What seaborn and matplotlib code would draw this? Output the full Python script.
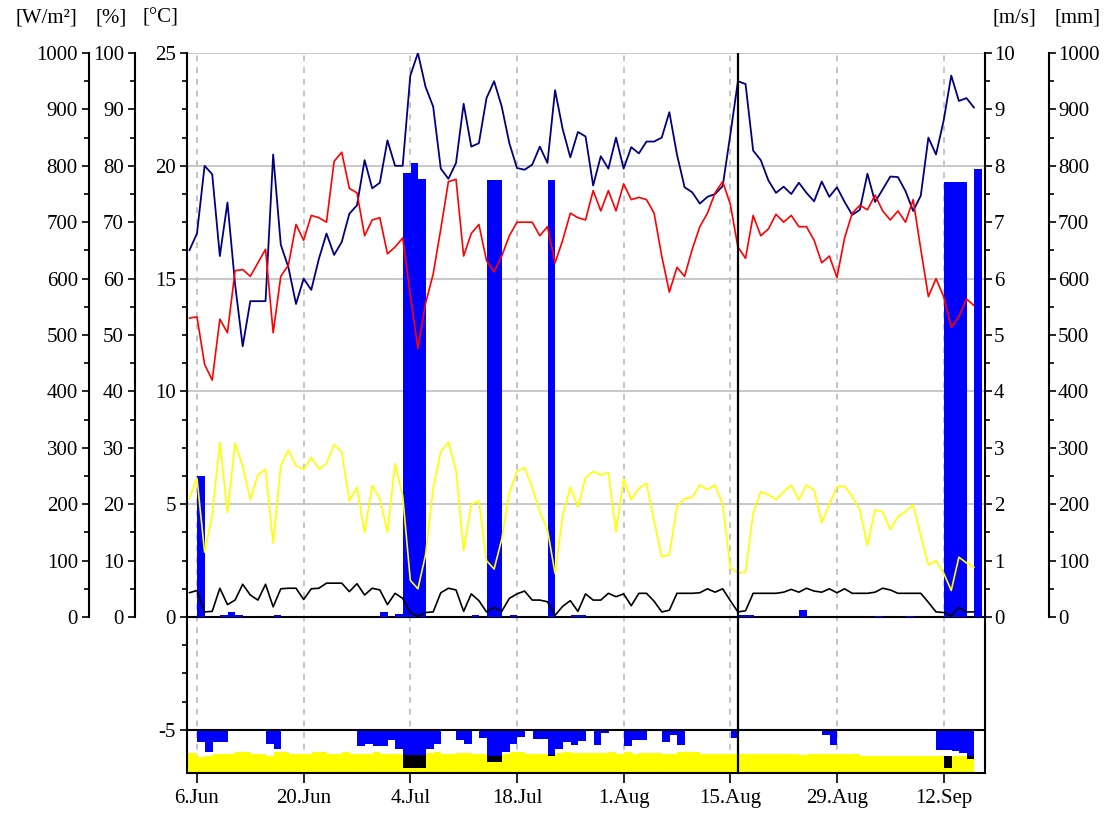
import numpy as np
import matplotlib
matplotlib.use("Agg")
import matplotlib.pyplot as plt
import seaborn as sns
from matplotlib.ticker import FixedLocator

sns.set_style("ticks", {"axes.edgecolor": "black", "xtick.color": "black",
                        "ytick.color": "black", "text.color": "black"})
plt.rcParams["font.family"] = ["Liberation Serif", "DejaVu Serif"]
plt.rcParams["axes.unicode_minus"] = False

# ---------------- data ----------------
date_ticks = [0, 14, 28, 42, 56, 70, 84, 98]          # days after 6 Jun
date_labels = ["6.Jun", "20.Jun", "4.Jul", "18.Jul", "1.Aug", "15.Aug", "29.Aug", "12.Sep"]
first_day = -1                                          # 5 Jun
marker_day = 71                                         # 16 Aug

humidity = [65, 68, 80, 78.5, 64, 73.5, 59, 48, 56, 56, 56, 82, 66, 62, 55.5, 60, 58, 63.5, 68, 64.2,
            66.5, 71.5, 73, 81, 76, 77, 84.5, 80, 80, 96, 100, 94, 90.5, 79.5, 77.7, 80.5, 91, 83.4, 84, 92,
            95, 90.5, 84, 79.6, 79.3, 80.2, 83.4, 80.5, 93.4, 86.5, 81.5, 86, 85.2, 76.5, 81.7, 79.5, 85, 79.5,
            83.3, 82.2, 84.3, 84.3, 85, 89.5, 82, 76.2, 75.3, 73.3, 74.5, 75, 76.4, 85.5, 95, 94.5, 82.7, 81,
            77.4, 75.2, 76.3, 75, 77, 75.2, 73.7, 77.2, 74.5, 76.2, 73.6, 71.3, 72.2, 78.6, 73.6, 75.8, 78.1,
            78, 75.5, 72, 74.7, 85, 82, 88, 96, 91.5, 92, 90.3]

temperature = [13.25, 13.3, 11.2, 10.5, 13.2, 12.6, 15.35, 15.4, 15.1, 15.7, 16.3, 12.6, 15.1, 15.6, 17.4,
               16.7, 17.8, 17.7, 17.5, 20.2, 20.6, 19.0, 18.8, 16.9, 17.6, 17.7, 16.1, 16.4, 16.8, 14.3,
               11.9, 13.9, 15.2, 17.2, 19.3, 19.4, 16.0, 17.0, 17.4, 15.8, 15.3, 16.0, 16.9, 17.5, 17.5,
               17.5, 16.9, 17.3, 15.7, 16.7, 17.9, 17.7, 17.6, 18.9, 18.0, 18.9, 18.0, 19.2, 18.5, 18.6,
               18.5, 17.9, 16.0, 14.4, 15.5, 15.1, 16.3, 17.3, 17.9, 18.8, 19.3, 18.3, 16.4, 15.9, 17.8,
               16.9, 17.2, 17.85, 17.5, 17.8, 17.3, 17.3, 16.7, 15.7, 16.0, 15.05, 16.8, 17.9, 18.25, 18.05,
               18.7, 18.0, 17.6, 18.0, 17.5, 18.5, 16.3, 14.2, 15.0, 14.2, 12.85, 13.3, 14.1, 13.8]

radiation = [210, 246, 115, 180, 310, 185, 308, 268, 208, 252, 262, 131, 268, 296, 268, 262, 283, 262, 272,
             306, 292, 206, 230, 150, 233, 210, 150, 272, 215, 65, 50, 110, 228, 293, 310, 260, 118, 200,
             206, 100, 85, 138, 220, 258, 265, 230, 187, 155, 77, 180, 230, 195, 247, 258, 252, 256, 151,
             245, 208, 228, 237, 170, 107, 110, 196, 210, 212, 234, 226, 234, 200, 87, 78, 80, 184, 222,
             217, 208, 222, 234, 208, 234, 225, 167, 200, 231, 232, 214, 190, 127, 190, 186, 155, 178, 187,
             199, 145, 92, 100, 78, 47, 106, 96, 88]

wind = [0.43, 0.47, 0.09, 0.10, 0.51, 0.22, 0.30, 0.58, 0.39, 0.30, 0.58, 0.18, 0.50, 0.51, 0.51, 0.31,
        0.50, 0.51, 0.60, 0.60, 0.60, 0.45, 0.59, 0.39, 0.51, 0.48, 0.22, 0.42, 0.33, 0.08, 0.01, 0.08,
        0.09, 0.43, 0.51, 0.48, 0.10, 0.41, 0.29, 0.09, 0.17, 0.10, 0.33, 0.41, 0.46, 0.30, 0.30, 0.27,
        0.03, 0.19, 0.29, 0.10, 0.41, 0.30, 0.30, 0.42, 0.36, 0.41, 0.20, 0.42, 0.42, 0.28, 0.09, 0.12,
        0.42, 0.42, 0.42, 0.43, 0.50, 0.44, 0.50, 0.29, 0.09, 0.11, 0.42, 0.42, 0.42, 0.42, 0.44, 0.49,
        0.44, 0.51, 0.46, 0.44, 0.50, 0.43, 0.50, 0.42, 0.42, 0.42, 0.44, 0.51, 0.48, 0.42, 0.42, 0.42,
        0.42, 0.26, 0.09, 0.08, 0.02, 0.17, 0.09, 0.09]

rain_days = [0, 3, 4, 5, 10, 24, 26, 27, 28, 29, 36, 38, 39, 41, 46, 49, 50, 71, 72, 79, 89, 93, 98, 99, 100, 102]
rain_mm = [250, 3, 9, 3, 3, 9, 5, 787, 805, 776, 3, 775, 775, 3, 775, 3, 3, 4, 3, 13, 2, 2, 772, 772, 772, 794]

# lower panel (in the °C units of the left scale)
deficit = [0.52, 0.99, 0.52, 0.52, 0, 0, 0, 0, 0, 0.62,
           0.84, 0, 0, 0, 0, 0, 0, 0, 0, 0,
           0, 0.70, 0.62, 0.74, 0.74, 0.47, 0.84, 1.11, 1.11, 1.11,
           0.84, 0.62, 0, 0, 0.44, 0.62, 0, 0.37, 1.14, 1.14,
           0.99, 0.62, 0.32, 0, 0.40, 0.40, 1.11, 0.84, 0.52, 0.67,
           0.49, 0, 0.67, 0.13, 0, 0, 0.74, 0.44, 0.44, 0,
           0, 0.52, 0.22, 0.67, 0, 0, 0, 0, 0, 0,
           0.37, 0, 0, 0, 0, 0, 0, 0, 0, 0,
           0, 0, 0.22, 0.67, 0, 0, 0, 0, 0, 0,
           0, 0, 0, 0, 0, 0, 0, 0.89, 0.89, 0.96,
           1.03, 1.18]
band_top = [-6.03, -6.20, -6.15, -6.08, -6.08, -6.08, -5.99, -5.99, -6.06, -6.06, -6.15,
            -6.00, -5.99, -6.08, -6.08, -6.08, -5.99, -5.99, -6.06, -6.06, -5.99,
            -6.06, -6.06, -6.06, -6.00, -6.06, -6.06, -6.06, -6.11, -6.11, -6.11,
            -6.03, -5.99, -6.06, -6.06, -6.03, -6.03, -6.08, -6.08, -6.14, -6.14,
            -6.06, -6.00, -5.99, -6.08, -6.06, -6.06, -6.11, -6.03, -5.99, -6.03,
            -6.03, -6.05, -6.05, -6.05, -5.99, -6.08, -5.99, -6.08, -6.03, -6.03,
            -6.03, -6.08, -6.08, -5.99, -5.99, -5.99, -6.08, -6.08, -6.08, -6.08,
            -6.08, -6.08, -6.08, -6.08, -6.08, -6.08, -6.08, -6.08, -6.08, -6.11,
            -6.06, -6.06, -6.06, -6.06, -6.08, -6.08, -6.08, -6.14, -6.14, -6.14,
            -6.14, -6.14, -6.14, -6.14, -6.14, -6.14, -6.14, -6.14, -6.14, -6.14,
            -6.14, -6.14]
dark_days = [27, 28, 29, 38, 39, 46, 98, 101]
dark_top = [-6.11, -6.11, -6.11, -6.14, -6.14, -6.11, -6.18, -6.15]
dark_bottom = [-6.70, -6.70, -6.70, -6.41, -6.41, -6.17, -6.70, -6.30]

# ---------------- layout ----------------
W, H = 1111, 815
L, R, T, B = 187, 985, 53, 773
fig = plt.figure(figsize=(W / 100, H / 100), dpi=100)
ax = fig.add_axes([L / W, 1 - B / H, (R - L) / W, (B - T) / H])
CMIN = -6.915
XMIN, XMAX = -1.31, 103.43
ax.set_ylim(CMIN, 25)
ax.set_xlim(XMIN, XMAX)

PX = 0.72  # points per pixel
FS = 15
OFF = 0.05
GRID = "#c4c4c4"

# grid
ax.set_axisbelow(True)
ax.set_yticks([-5, 0, 5, 10, 15, 20, 25])
ax.yaxis.set_minor_locator(FixedLocator([v for v in np.arange(-3.75, 25, 1.25) if abs(v % 5) > 1e-6]))
ax.grid(axis="y", which="major", color=GRID, lw=1.3, ls="-")
ax.set_xticks(date_ticks)
ax.set_xticklabels(date_labels)
ax.grid(axis="x", which="major", color=GRID, lw=1.4, ls=(0, (3, 3)))

# lower panel
bt = np.array(band_top)
band_x = np.arange(len(bt)) + first_day + OFF
band_x[0] = XMIN
band_w = np.ones(len(bt))
band_w[0] = first_day + OFF + 1 - XMIN
ax.bar(band_x, bt - CMIN, bottom=CMIN, width=band_w, align="edge",
       color="#ffff00", lw=0, zorder=2)
dk = np.arange(len(deficit))
ax.bar(dk + OFF, -np.array(deficit), bottom=-5, width=1.0, align="edge", color="#0000ff", lw=0, zorder=3)
ax.bar(np.array(dark_days) + OFF, np.array(dark_bottom) - np.array(dark_top), bottom=dark_top,
       width=1.0, align="edge", color="black", lw=0, zorder=4)
ax.axhline(0, color="black", lw=1.5, zorder=5)
ax.axhline(-5, color="black", lw=1.5, zorder=5)

ax.spines["top"].set_visible(False)
ax.spines["right"].set_bounds(CMIN, 0)
for s in ["left", "right", "bottom"]:
    ax.spines[s].set_linewidth(1.5)
ax.tick_params(axis="y", which="major", left=True, right=False, length=7 * PX, width=1.2,
               labelsize=FS, pad=3)
ax.tick_params(axis="y", which="minor", left=True, right=False, length=5 * PX, width=1.2)
ax.tick_params(axis="x", which="major", bottom=True, length=10 * PX, width=1.2, labelsize=FS, pad=4)
ax.set_xlabel("")
ax.set_ylabel("")


def twin(zorder, side, pos, vmax, major, minor):
    t = ax.twinx()
    t.set_zorder(zorder)
    t.patch.set_visible(False)
    for sp in t.spines.values():
        sp.set_visible(False)
    t.set_ylim(CMIN / 25 * vmax, vmax)
    if side is None:
        t.set_yticks([])
        return t
    sp = t.spines[side]
    sp.set_visible(True)
    sp.set_position(("axes", pos))
    sp.set_bounds(0, vmax)
    sp.set_linewidth(1.5)
    if side == "left":
        t.yaxis.set_ticks_position("left")
        t.yaxis.set_label_position("left")
    else:
        t.yaxis.set_ticks_position("right")
    t.yaxis.set_major_locator(FixedLocator(np.arange(0, vmax + 1e-9, major)))
    t.yaxis.set_minor_locator(FixedLocator(np.arange(minor, vmax, major)))
    t.tick_params(axis="y", which="major", length=7 * PX, width=1.2, labelsize=FS,
                  pad=3 if side == "left" else 1.5)
    t.tick_params(axis="y", which="minor", length=5 * PX, width=1.2)
    t.yaxis.set_major_formatter(plt.FuncFormatter(lambda v, p: f"{v:.0f}"))
    t.set_ylabel("")
    return t


ax_mm = twin(1, "right", (1049 - L) / (R - L), 1000, 100, 50)
ax_w = twin(2, "left", (89 - L) / (R - L), 1000, 100, 50)
ax_ms = twin(3, "right", 1.0, 10, 1, 0.5)
ax_pct = twin(4, "left", (135 - L) / (R - L), 100, 10, 5)
ax_t = twin(5, None, 0, 25, 5, 2.5)
ax_t.set_ylim(CMIN, 25)

# rain bars
ax_mm.bar(np.array(rain_days) + OFF, rain_mm, width=1.0, align="edge", color="#0000ff", lw=0)

# lines
sns.lineplot(x=np.arange(len(radiation)) + first_day, y=radiation, ax=ax_w, color="#ffff00", lw=1.2, legend=False)
sns.lineplot(x=np.arange(len(wind)) + first_day, y=wind, ax=ax_ms, color="black", lw=1.2, legend=False)
sns.lineplot(x=np.arange(len(humidity)) + first_day, y=humidity, ax=ax_pct, color="#000080", lw=1.3, legend=False)
sns.lineplot(x=np.arange(len(temperature)) + first_day, y=temperature, ax=ax_t, color="#ff0000", lw=1.2, legend=False)
ax_t.axvline(marker_day, color="black", lw=1.6)
for a in [ax_mm, ax_w, ax_ms, ax_pct, ax_t]:
    a.set_ylabel("")
    a.set_xlabel("")
ax.set_xlim(XMIN, XMAX)

# units
for txt, x in [("[W/m²]", 46), ("[%]", 111), ("[°C]", 160), ("[m/s]", 1014), ("[mm]", 1078)]:
    fig.text(x / W, 1 - 18 / H, txt, ha="center", va="center", fontsize=FS)

fig.savefig("out.png", dpi=100, facecolor="white")
